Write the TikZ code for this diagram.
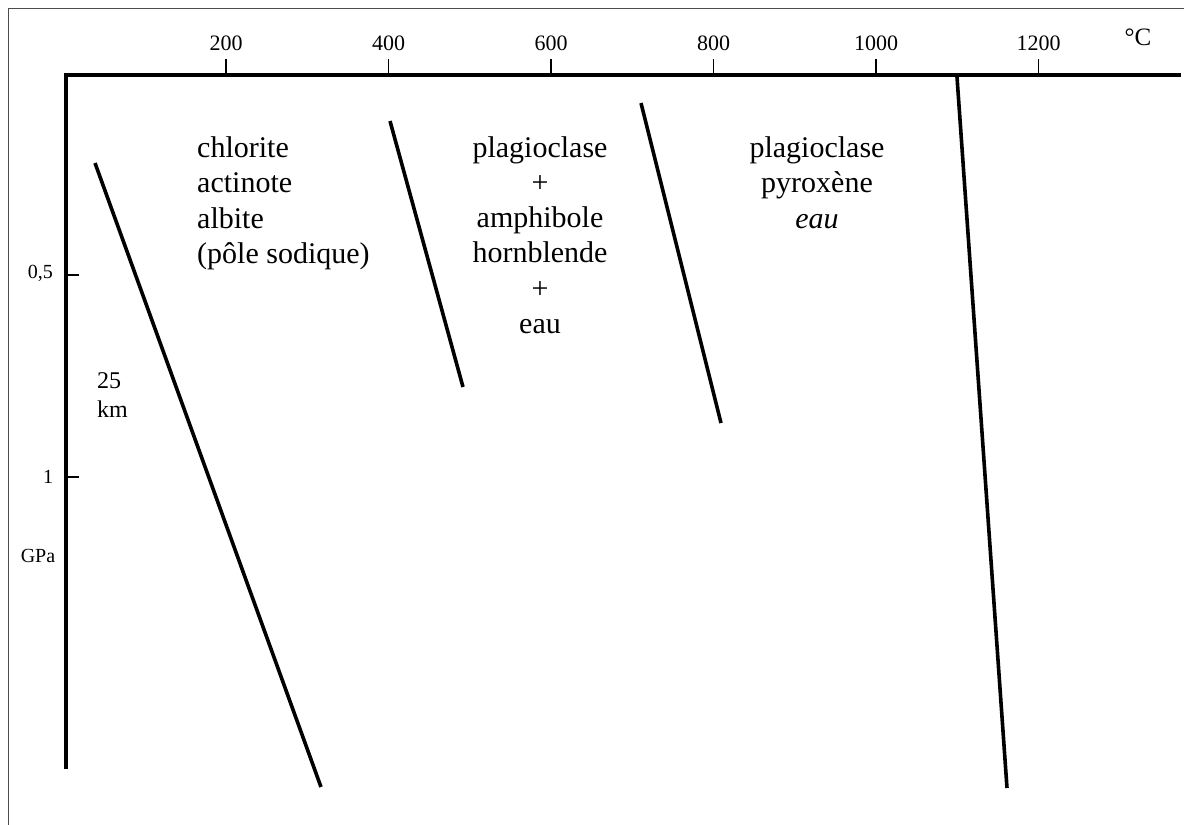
\documentclass[tikz,border=0pt]{standalone}
\usepackage{fontspec}
\setmainfont{Liberation Serif}
\begin{document}
\begin{tikzpicture}[x=1pt,y=-1pt,
  frame/.style={draw=black!70,line width=0.8pt},
  axis/.style={line width=4.5pt,line cap=rect},
  tick/.style={line width=1.6pt},
  bound/.style={line width=3.6pt},
  lbl/.style={inner sep=0pt,font=\fontsize{30}{36}\selectfont},
  ticklbl/.style={inner sep=0pt,font=\fontsize{22}{26}\selectfont},
  sidelbl/.style={inner sep=0pt,font=\fontsize{20}{24}\selectfont},
  kmlbl/.style={inner sep=0pt,font=\fontsize{24}{28}\selectfont}]
\useasboundingbox (0,0) rectangle (1184,825);
\fill[white] (0,0) rectangle (1184,825);
% frame
\coordinate (fa) at (8,825);
\coordinate (fb) at (8,8);
\coordinate (fc) at (1184,8);
\draw[frame] (fa) -- (fb) -- (fc);
% axes
\coordinate (O) at (66,75);
\coordinate (xe) at (1179,75);
\coordinate (ye) at (66,767);
\draw[axis] (ye) -- (O) -- (xe);
% top ticks
\foreach \v/\x in {200/226,400/388.5,600/551,800/713.5,1000/876,1200/1038.5}{
  \coordinate (t\v) at (\x,75);
  \coordinate (tt\v) at (\x,59);
  \draw[tick] (t\v) -- (tt\v);
  \node[ticklbl,anchor=base] (l\v) at (\x,50) {\v};
}
\node[inner sep=0pt,font=\fontsize{25}{30}\selectfont,anchor=base] (degC) at (1138,45) {°C};
% left ticks
\coordinate (p05) at (66,275);
\coordinate (p05e) at (79,275);
\coordinate (p1) at (66,477);
\coordinate (p1e) at (79,477);
\draw[tick] (p05) -- (p05e);
\draw[tick] (p1) -- (p1e);
\node[sidelbl,anchor=base east] (l05) at (53,278) {0,5};
\node[sidelbl,anchor=base] (l1) at (48,483) {1};
\node[sidelbl,anchor=base] (gpa) at (38,562) {GPa};
\node[kmlbl,anchor=base west] (d25) at (97,388) {25};
\node[kmlbl,anchor=base west] (dkm) at (97,417) {km};
% boundary lines
\coordinate (a1) at (95,163);  \coordinate (a2) at (321,787);
\coordinate (b1) at (390,121); \coordinate (b2) at (463,387);
\coordinate (c1) at (641,103); \coordinate (c2) at (721,423);
\coordinate (d1) at (957,77);  \coordinate (d2) at (1007,788);
\draw[bound] (a1) -- (a2);
\draw[bound] (b1) -- (b2);
\draw[bound] (c1) -- (c2);
\draw[bound] (d1) -- (d2);
% block 1
\node[lbl,anchor=base west] (m1) at (197,157) {chlorite};
\node[lbl,anchor=base west] (m2) at (197,192.5) {actinote};
\node[lbl,anchor=base west] (m3) at (197,228) {albite};
\node[lbl,anchor=base west] (m4) at (197,263.5) {(pôle sodique)};
% block 2
\node[lbl,anchor=base] (n1) at (540,157) {plagioclase};
\node[lbl,anchor=base] (n2) at (540,192.3) {+};
\node[lbl,anchor=base] (n3) at (540,227.6) {amphibole};
\node[lbl,anchor=base] (n4) at (540,262.9) {hornblende};
\node[lbl,anchor=base] (n5) at (540,298.2) {+};
\node[lbl,anchor=base] (n6) at (540,333.5) {eau};
% block 3
\node[lbl,anchor=base] (q1) at (817,157) {plagioclase};
\node[lbl,anchor=base] (q2) at (817,192.5) {pyroxène};
\node[lbl,anchor=base] (q3) at (817,228) {\itshape eau};
\end{tikzpicture}
\end{document}
